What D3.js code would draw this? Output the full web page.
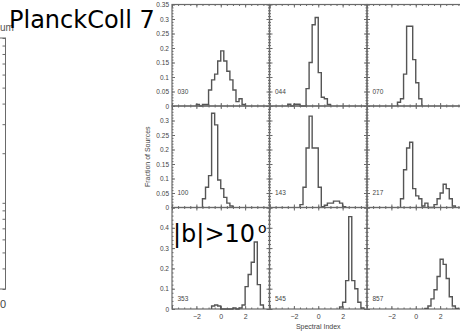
<!DOCTYPE html>
<meta charset="utf-8">
<script src="https://cdn.jsdelivr.net/npm/d3@7"></script>
<style>
  body { margin: 0; background: #fff; }
  svg { display: block; }
</style>
<body>
<div id="chart"></div>
<script>
// panel names (frequency bands) and histogram values, bin width 0.25 in spectral index
var bands = ["030", "044", "070", "100", "143", "217", "353", "545", "857"];
var binWidth = 0.25;
var binStart = [-2.0, -2.5, -1.5, -1.5, -1.5, -1.25, -0.75, 1.75, 0.75];

var frac030 = [0.005, 0, 0.005, 0.005, 0.055, 0.09, 0.11, 0.155, 0.19, 0.155, 0.12, 0.09, 0.055, 0.015, 0.025, 0.005];
var frac044 = [0.006, 0, 0.006, 0.006, 0, 0, 0.06, 0.15, 0.28, 0.305, 0.115, 0.03, 0.025, 0.005];
var frac070 = [0.013, 0.025, 0.11, 0.275, 0.275, 0.16, 0.08, 0.025];
var frac100 = [0.03, 0.07, 0.11, 0.325, 0.285, 0.095, 0.065, 0.035, 0.015, 0.005];
var frac143 = [0.01, 0.07, 0.205, 0.315, 0.205, 0.205, 0.07, 0.003, 0.008, 0.015, 0.015, 0.022, 0.022, 0.015, 0.003];
var frac217 = [0.03, 0.13, 0.205, 0.225, 0.065, 0.04, 0.03, 0.005, 0.015, 0, 0, 0.01, 0.03, 0.05, 0.08, 0.065, 0.03, 0.005];
var frac353 = [0.015, 0.02, 0.015, 0, 0, 0, 0, 0.005, 0, 0.005, 0.02, 0.11, 0.17, 0.23, 0.33, 0.12, 0.02];
var frac545 = [0.01, 0.033, 0.14, 0.455, 0.14, 0.1, 0.033, 0.005];
var frac857 = [0.003, 0.015, 0.05, 0.095, 0.16, 0.245, 0.22, 0.15, 0.06, 0.015, 0.003];
var fractions = [frac030, frac044, frac070, frac100, frac143, frac217, frac353, frac545, frac857];

var xDomain = [-4, 4];
var xLabels = [-2, 0, 2];
var yMax = [0.35, 0.35, 0.5];
var yLabels = [
  [0, 0.05, 0.1, 0.15, 0.2, 0.25, 0.3, 0.35],
  [0, 0.05, 0.1, 0.15, 0.2, 0.25, 0.3],
  [0, 0.1, 0.2, 0.3, 0.4]
];
var yMajor = [0.05, 0.05, 0.1];
var yMinor = [0.01, 0.01, 0.02];

var width = 460, height = 333;
var gridLeft = 172, gridTop = 4.5, panelW = 97.5, panelH = 101.5;
var boxColor = "#6a6a6a", lineColor = "#555", textColor = "#444";
var smallFont = "'Liberation Sans', Arial, sans-serif";

var svg = d3.select("#chart").append("svg")
  .attr("width", width)
  .attr("height", height);

// partial neighbouring plot at the far left (log axis)
var leftY = d3.scaleLog().domain([3, 100]).range([289, 38]);
svg.append("rect")
  .attr("x", -40).attr("y", 38).attr("width", 45.5).attr("height", 251)
  .attr("fill", "none").attr("stroke", boxColor);
svg.append("g")
  .attr("transform", "translate(5.5,0)")
  .call(d3.axisLeft(leftY).tickSize(3).tickFormat(""))
  .call(function(g){ g.select(".domain").remove(); })
  .selectAll("line").attr("stroke", boxColor);
svg.append("text")
  .attr("x", 0).attr("y", 31)
  .style("font-family", smallFont).style("font-size", "10px")
  .attr("fill", "#555").text("um");
svg.append("text")
  .attr("x", 0).attr("y", 308)
  .style("font-family", smallFont).style("font-size", "11px")
  .attr("fill", textColor).text("0");

function range(a, b, step) {
  var out = [];
  for (var v = a; v <= b + 1e-9; v += step) out.push(+v.toFixed(4));
  return out;
}

function fmt(d) { return d < 0 ? "\u2212" + Math.abs(d) : String(d); }

fractions.forEach(function(vals, i) {
  var col = i % 3, row = Math.floor(i / 3);
  var x0 = gridLeft + col * panelW, y0 = gridTop + row * panelH;
  var x = d3.scaleLinear().domain(xDomain).range([x0, x0 + panelW]);
  var y = d3.scaleLinear().domain([0, yMax[row]]).range([y0 + panelH, y0]);
  var g = svg.append("g").attr("class", "panel");

  // ticks on all four sides, pointing inward
  var xMaj = range(-4, 4, 2), xMin = range(-4, 4, 0.5);
  var yMaj = range(0, yMax[row], yMajor[row]), yMin = range(0, yMax[row], yMinor[row]);
  function side(axis, tr, vals, size) {
    g.append("g").attr("transform", tr)
      .call(axis.tickValues(vals).tickSize(size).tickFormat(""))
      .call(function(s){ s.select(".domain").remove(); })
      .selectAll("line").attr("stroke", boxColor);
  }
  side(d3.axisBottom(x), "translate(0," + (y0 + panelH) + ")", xMin, -1.5);
  side(d3.axisBottom(x), "translate(0," + (y0 + panelH) + ")", xMaj, -3);
  side(d3.axisTop(x), "translate(0," + y0 + ")", xMin, -1.5);
  side(d3.axisTop(x), "translate(0," + y0 + ")", xMaj, -3);
  side(d3.axisLeft(y), "translate(" + x0 + ",0)", yMin, -1.5);
  side(d3.axisLeft(y), "translate(" + x0 + ",0)", yMaj, -3);
  side(d3.axisRight(y), "translate(" + (x0 + panelW) + ",0)", yMin, -1.5);
  side(d3.axisRight(y), "translate(" + (x0 + panelW) + ",0)", yMaj, -3);

  g.append("rect")
    .attr("x", x0).attr("y", y0).attr("width", panelW).attr("height", panelH)
    .attr("fill", "none").attr("stroke", boxColor).attr("stroke-width", 1.2);

  // tick labels on outer panels only
  if (col === 0) {
    g.append("g").attr("transform", "translate(" + x0 + ",0)")
      .call(d3.axisLeft(y).tickValues(yLabels[row]).tickSize(0).tickPadding(3).tickFormat(fmt))
      .call(function(s){ s.select(".domain").remove(); })
      .selectAll("text")
      .style("font-family", smallFont).style("font-size", "6.5px").attr("fill", textColor);
  }
  if (row === 2) {
    g.append("g").attr("transform", "translate(0," + (y0 + panelH) + ")")
      .call(d3.axisBottom(x).tickValues(xLabels).tickSize(0).tickPadding(5).tickFormat(fmt))
      .call(function(s){ s.select(".domain").remove(); })
      .selectAll("text")
      .style("font-family", smallFont).style("font-size", "7px").attr("fill", textColor);
  }

  // step histogram
  var pts = [[binStart[i], 0]];
  vals.forEach(function(v, k) {
    var a = binStart[i] + k * binWidth;
    pts.push([a, v], [a + binWidth, v]);
  });
  pts.push([binStart[i] + vals.length * binWidth, 0]);
  g.append("path")
    .datum(pts)
    .attr("d", d3.line().x(function(d){ return x(d[0]); }).y(function(d){ return y(d[1]); }))
    .attr("fill", "none").attr("stroke", lineColor).attr("stroke-width", 1.4);

  // band label
  g.append("text")
    .attr("x", x(-3.55)).attr("y", y(0.05)).attr("dy", "0.35em")
    .style("font-family", smallFont).style("font-size", "6.5px")
    .attr("fill", textColor).text(bands[i]);
});

svg.append("text")
  .attr("transform", "translate(149.5," + (gridTop + 1.5 * panelH) + ") rotate(-90)")
  .attr("text-anchor", "middle")
  .style("font-family", smallFont).style("font-size", "7px")
  .attr("fill", textColor).text("Fraction of Sources");

svg.append("text")
  .attr("x", gridLeft + 1.5 * panelW).attr("y", 329)
  .attr("text-anchor", "middle")
  .style("font-family", smallFont).style("font-size", "7px")
  .attr("fill", textColor).text("Spectral Index");

// slide overlays
var bigFont = "'DejaVu Sans', Verdana, sans-serif";
svg.append("text")
  .attr("x", 9).attr("y", 27.5)
  .style("font-family", bigFont).style("font-size", "24px")
  .attr("fill", "#000").text("PlanckColl 7");
svg.append("text")
  .attr("x", 173).attr("y", 242)
  .style("font-family", bigFont).style("font-size", "24px")
  .attr("fill", "#000").text("|b|>10");
svg.append("text")
  .attr("x", 258).attr("y", 232.5)
  .style("font-family", bigFont).style("font-size", "14px")
  .attr("fill", "#000").text("o");
</script>
</body>
